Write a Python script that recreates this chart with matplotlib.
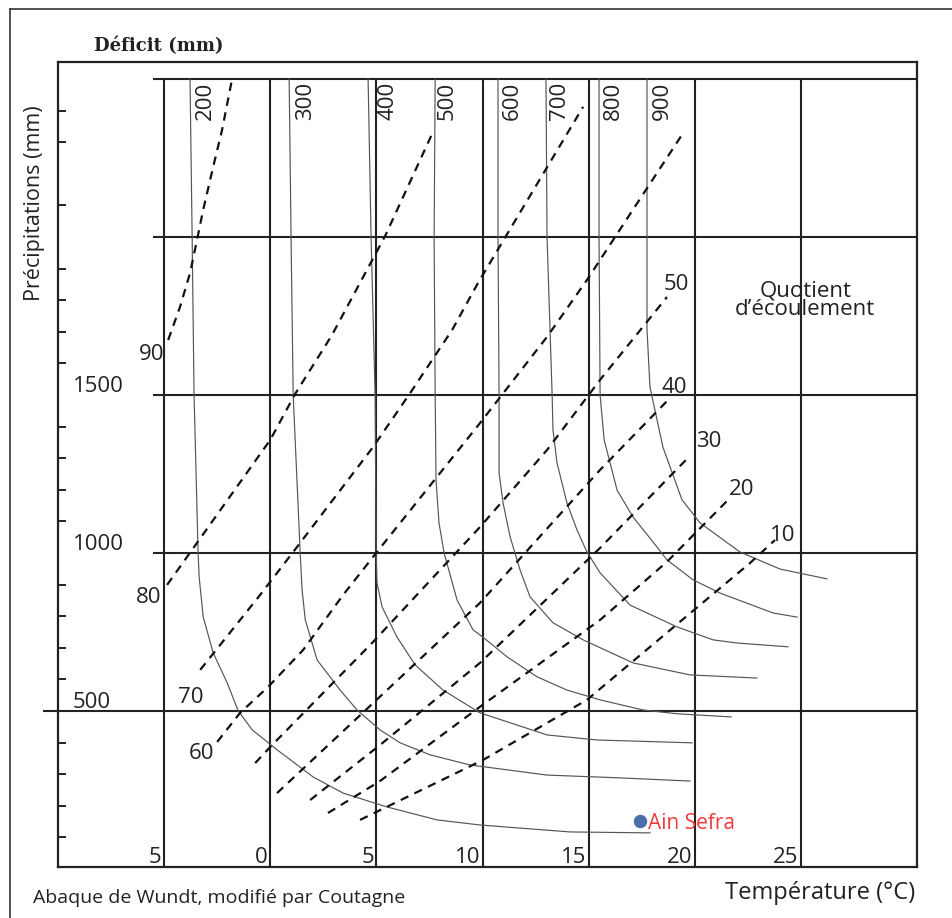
import matplotlib.pyplot as plt
from matplotlib.lines import Line2D

plt.rcParams['font.family'] = ['Open Sans', 'DejaVu Sans']

# values: x = temperature (°C), y = precipitation (mm)

# deficit curves (mm)
d200_t = [-3.78, -3.68, -3.59, -3.40, -3.35, -3.16, -2.69, -2.03, -1.51, -0.85, 0.32, 2.02, 3.43, 5.50, 7.86, 9.88, 14.12, 17.89]
d200_p = [2500, 2000, 1500, 1000, 924, 798, 684, 589, 500, 440, 377, 291, 240, 196, 155, 139, 117, 114]
d300_t = [0.89, 0.98, 1.08, 1.41, 1.50, 1.65, 2.21, 3.29, 4.09, 5.17, 6.12, 7.53, 9.41, 13.04, 16.48, 19.78]
d300_p = [2500, 2000, 1500, 1000, 883, 788, 661, 566, 503, 440, 399, 361, 329, 297, 288, 278]
d400_t = [4.61, 4.75, 4.94, 4.99, 5.03, 5.27, 5.97, 6.82, 8.14, 9.88, 13.04, 15.40, 19.87]
d400_p = [2500, 2000, 1500, 1000, 905, 829, 734, 646, 566, 494, 424, 408, 399]
d500_t = [7.77, 7.72, 7.77, 7.81, 7.95, 8.19, 8.80, 9.55, 10.03, 11.16, 12.57, 13.98, 15.54, 17.56, 19.16, 21.71]
d500_p = [2500, 2000, 1500, 1231, 1095, 1000, 851, 757, 733, 671, 608, 566, 535, 503, 491, 481]
d600_t = [10.73, 10.73, 10.78, 10.78, 10.97, 11.30, 11.77, 12.24, 13.32, 14.74, 16.48, 17.09, 19.78, 22.93]
d600_p = [2500, 2000, 1500, 1253, 1158, 1051, 946, 861, 779, 725, 671, 652, 614, 604]
d700_t = [12.99, 13.04, 13.28, 13.32, 13.51, 13.98, 14.45, 14.92, 15.54, 16.95, 19.16, 20.86, 21.99, 24.39]
d700_p = [2500, 2000, 1500, 1389, 1285, 1158, 1073, 1003, 937, 835, 766, 725, 715, 703]
d800_t = [15.49, 15.49, 15.54, 15.73, 16.01, 16.34, 17.09, 18.22, 18.69, 19.92, 21.19, 23.69, 24.82]
d800_p = [2500, 2000, 1500, 1358, 1285, 1199, 1114, 1019, 978, 915, 873, 810, 797]
d900_t = [17.75, 17.75, 17.75, 17.89, 18.50, 19.40, 20.25, 22.13, 24.02, 26.23]
d900_p = [2500, 2000, 1706, 1525, 1335, 1168, 1095, 1003, 949, 918]

deficit_labels = ['200', '300', '400', '500', '600', '700', '800', '900']
deficit_label_t = [-3.54, 1.17, 5.03, 7.86, 10.92, 13.13, 15.68, 17.99]

# quotient d'ecoulement lines (%)
q90_t = [-4.81, -4.25, -3.78, -3.45, -3.16, -2.69, -2.27, -1.80]
q90_p = [1674, 1779, 1886, 1991, 2086, 2222, 2339, 2500]
q80_t = [-4.86, -3.45, 0.0, 1.17, 2.91, 5.41, 7.67]
q80_p = [899, 1032, 1358, 1503, 1690, 2003, 2333]
q70_t = [-3.30, -0.48, 1.41, 4.84, 6.59, 8.57, 9.79, 14.74]
q70_p = [630, 867, 1032, 1335, 1506, 1706, 1855, 2412]
q60_t = [-2.50, -1.42, -0.10, 1.55, 3.43, 4.99, 9.88, 13.04, 14.92, 19.45]
q60_p = [402, 494, 576, 693, 867, 1000, 1411, 1684, 1864, 2329]
q50_t = [-0.71, 0.0, 4.84, 9.88, 13.04, 15.54, 18.69]
q50_p = [335, 386, 718, 1082, 1326, 1548, 1810]
q40_t = [0.32, 5.50, 9.88, 15.54, 18.74]
q40_p = [240, 566, 842, 1263, 1484]
q30_t = [1.88, 5.17, 9.88, 13.32, 15.54, 19.68]
q30_p = [218, 392, 652, 873, 1016, 1301]
q20_t = [2.72, 5.17, 9.88, 15.54, 18.69, 21.57]
q20_p = [177, 278, 513, 788, 972, 1168]
q10_t = [4.23, 10.03, 14.92, 16.48, 22.60, 23.78]
q10_p = [155, 345, 535, 623, 968, 1041]

quotient_labels = ['90', '80', '70', '60', '50', '40', '30', '20', '10']
quotient_label_t = [-5.61, -5.71, -3.73, -3.26, 19.12, 19.02, 20.67, 22.23, 24.16]
quotient_label_p = [1636, 867, 551, 373, 1858, 1532, 1361, 1209, 1063]

temp_grid = [-5, 0, 5, 10, 15, 20, 25]
temp_labels = ['5', '0', '5', '10', '15', '20', '25']
precip_grid = [500, 1000, 1500, 2000, 2500]
precip_labels = ['500', '1000', '1500']
precip_ticks = [100, 200, 300, 400, 600, 700, 800, 900, 1100, 1200, 1300, 1400,
                1600, 1700, 1800, 1900, 2100, 2300, 2400]

station_t = 17.42
station_p = 152
station_name = 'Ain Sefra'

deficit = [(d200_t, d200_p), (d300_t, d300_p), (d400_t, d400_p), (d500_t, d500_p),
           (d600_t, d600_p), (d700_t, d700_p), (d800_t, d800_p), (d900_t, d900_p)]
quotient = [(q90_t, q90_p), (q80_t, q80_p), (q70_t, q70_p), (q60_t, q60_p), (q50_t, q50_p),
            (q40_t, q40_p), (q30_t, q30_p), (q20_t, q20_p), (q10_t, q10_p)]

W, H = 952, 918
fig = plt.figure(figsize=(W / 100, H / 100), dpi=100)
ax = fig.add_axes([58 / W, 51 / H, 859 / W, 805 / H])
x0, x1 = -10, 30.47
y0, y1 = 6, 2554
ax.set_xlim(x0, x1)
ax.set_ylim(y0, y1)

for s in ax.spines.values():
    s.set_linewidth(1.6)
    s.set_color('#222222')
ax.set_xticks([])
ax.set_yticks(precip_ticks)
ax.set_yticklabels([])
ax.tick_params(axis='y', direction='in', length=6, width=1.4, color='#222222')

# grid
grid_kw = dict(color='#222222', lw=1.5, solid_capstyle='butt')
for t in temp_grid:
    ax.plot([t, t], [y0, 2500], **grid_kw)
for p in precip_grid:
    start = -10.7 if p == 500 else -5.52
    ax.plot([start, x1], [p, p], clip_on=False, **grid_kw)

# deficit curves
for t, p in deficit:
    ax.plot(t, p, color='#555555', lw=0.85)
for lab, t in zip(deficit_labels, deficit_label_t):
    ax.text(t, 2491, lab, rotation=90, ha='left', va='top', fontsize=16, color='#222222')

# quotient lines
for t, p in quotient:
    ax.plot(t, p, color='#111111', lw=1.6, linestyle=(0, (3.8, 3.0)))
for lab, t, p in zip(quotient_labels, quotient_label_t, quotient_label_p):
    ax.text(t, p, lab, ha='center', va='center_baseline', fontsize=16, color='#222222')

# axis numbers
for lab, p in zip(precip_labels, precip_grid):
    ax.text(-9.3, p + 8, lab, ha='left', va='baseline', fontsize=16, color='#222222')
for lab, t in zip(temp_labels, temp_grid):
    ax.text(t - 0.12, 20, lab, ha='right', va='baseline', fontsize=16, color='#222222')

ax.text(25.2, 1752, 'Quotient\nd\u2019écoulement', ha='center', va='baseline',
        multialignment='center', linespacing=0.85, fontsize=16, color='#222222')

# station
ax.scatter([station_t], [station_p], s=75, color='#4a6ea8', zorder=5)
ax.annotate(station_name, (station_t, station_p), xytext=(6, 0), textcoords='offset points',
            ha='left', va='center_baseline', fontsize=15, color='#ef3b3b')

# titles and captions
fig.text(35 / W, 1 - 203 / H, 'Précipitations (mm)', rotation=90, ha='center', va='center',
         fontsize=15.5, color='#222222')
fig.text(94 / W, 1 - 51 / H, 'Déficit (mm)', ha='left', va='baseline', fontsize=13,
         family='DejaVu Serif', weight='bold', color='#222222')
fig.text(33 / W, 1 - 903 / H, 'Abaque de Wundt, modifié par Coutagne', ha='left', va='baseline',
         fontsize=14, color='#222222')
fig.text(915 / W, 1 - 899 / H, 'Température (°C)', ha='right', va='baseline',
         fontsize=17, color='#222222')

# frame of the original figure (top and left edges)
fig.add_artist(Line2D([10 / W, 1], [1 - 9 / H, 1 - 9 / H], color='#333333', lw=1.2))
fig.add_artist(Line2D([10 / W, 10 / W], [0, 1 - 9 / H], color='#333333', lw=1.2))

fig.savefig('out.png', dpi=100)
